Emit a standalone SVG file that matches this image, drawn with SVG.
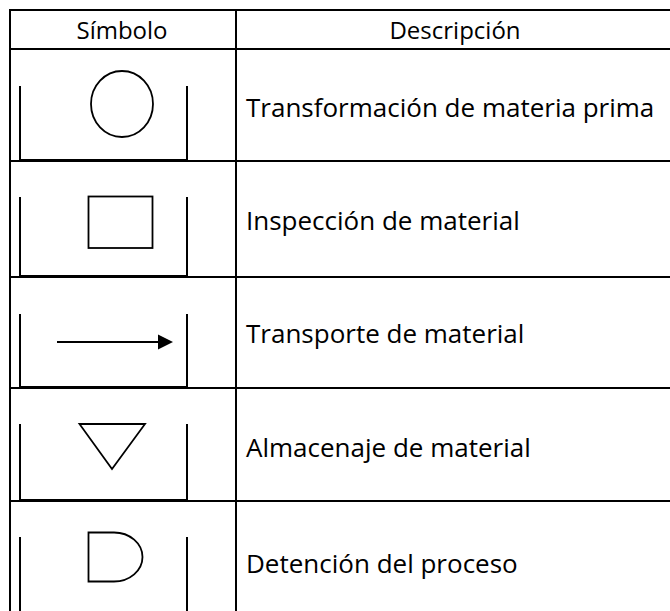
<svg xmlns="http://www.w3.org/2000/svg" width="670" height="611" viewBox="0 0 670 611">
  <style>
    .grid { stroke: #000; stroke-width: 2; fill: none; }
    .bracket { stroke: #000; stroke-width: 2; fill: none; }
    .sym { stroke: #000; stroke-width: 1.8; fill: none; }
    .head { font-family: "Open Sans", "Noto Sans", sans-serif; font-size: 24px; fill: #000; text-anchor: middle; }
    .desc { font-family: "Open Sans", "Noto Sans", sans-serif; font-size: 26px; fill: #000; }
  </style>
  <rect width="670" height="611" fill="#fff"/>

  <g id="table-grid" class="grid">
    <line x1="10" y1="10" x2="670" y2="10"/>
    <line x1="10" y1="49" x2="670" y2="49"/>
    <line x1="10" y1="161" x2="670" y2="161"/>
    <line x1="10" y1="277" x2="670" y2="277"/>
    <line x1="10" y1="388" x2="670" y2="388"/>
    <line x1="10" y1="501" x2="670" y2="501"/>
    <line x1="10" y1="9" x2="10" y2="611"/>
    <line x1="236" y1="9" x2="236" y2="611"/>
  </g>

  <g id="header">
    <text class="head" x="122" y="39">Símbolo</text>
    <text class="head" x="455" y="39">Descripción</text>
  </g>

  <g id="row-transformacion">
    <path class="bracket" d="M20,86 V160 H187 V86"/>
    <ellipse class="sym" cx="122" cy="104" rx="31" ry="33"/>
    <text class="desc" x="246" y="117">Transformación de materia prima</text>
  </g>

  <g id="row-inspeccion">
    <path class="bracket" d="M20,197 V276 H187 V197"/>
    <rect class="sym" x="88.5" y="196.5" width="64" height="51.5" stroke-width="2.2"/>
    <text class="desc" x="246" y="230">Inspección de material</text>
  </g>

  <g id="row-transporte">
    <path class="bracket" d="M20,314 V387 H187 V314"/>
    <line class="sym" x1="57" y1="342" x2="160" y2="342"/>
    <polygon points="158,334.5 173,342 158,349.5" fill="#000"/>
    <text class="desc" x="246" y="343">Transporte de material</text>
  </g>

  <g id="row-almacenaje">
    <path class="bracket" d="M20,424 V500 H187 V424"/>
    <polygon class="sym" points="79.5,424 145,424 112,469" stroke-width="2"/>
    <text class="desc" x="246" y="457">Almacenaje de material</text>
  </g>

  <g id="row-detencion">
    <path class="bracket" d="M20,537 V611 M187,537 V611"/>
    <path class="sym" d="M88.5,532.5 H114 A28.5 24.5 0 0 1 114 581.5 H88.5 Z"/>
    <text class="desc" x="246" y="573">Detención del proceso</text>
  </g>
</svg>
